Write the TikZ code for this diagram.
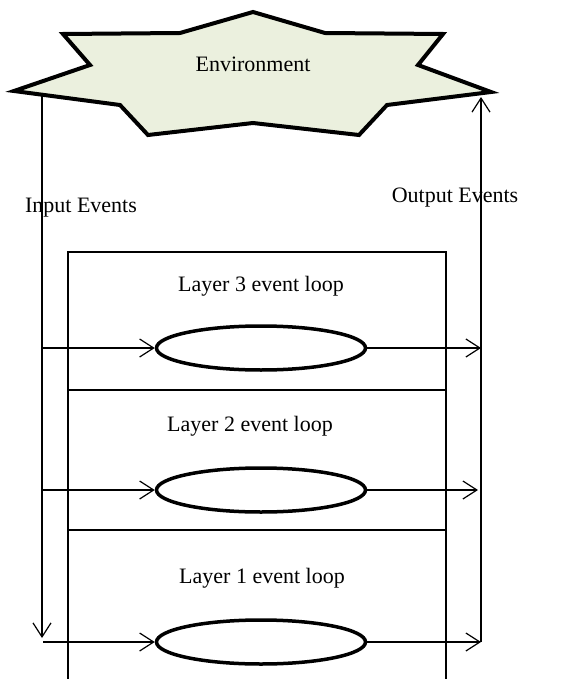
\documentclass[tikz,border=0pt]{standalone}
\usepackage{fontspec}
\setmainfont{Liberation Serif}
\usetikzlibrary{shapes.geometric,arrows.meta}
\definecolor{envfill}{RGB}{235,240,222}

\begin{document}
\begin{tikzpicture}[x=1pt,y=-1pt,
	loop/.style = {draw, ellipse, line width=3.5pt, minimum width=209pt, minimum height=44pt, inner sep=0pt},
	lbl/.style = {font=\fontsize{22}{26}\selectfont, inner sep=0pt, anchor=base},
	ev/.style = {line width=1.2pt, -{Straight Barb[length=14pt,width=18pt]}},
	box/.style = {line width=1.5pt}]
				\useasboundingbox (0,0) rectangle (579,679);
				% environment
				\draw[line width=4pt, fill=envfill] (14,91) -- (90,65) -- (63,34) -- (180,33) -- (253,12) -- (325,33) -- (443,34) -- (418,65) -- (491,92) -- (387,105) -- (359,135) -- (253,123) -- (148,135) -- (120,105) -- cycle;
				\node[lbl] (env) at (253,72) {Environment};
				\node[lbl] (in) at (81,212) {Input Events};
				\node[lbl] (out) at (455,202) {Output Events};
				
				% layers
				\draw[box] (68,679) -- (68,252) -- (446,252) -- (446,679);
				\draw[box] (68,390) -- (446,390);
				\draw[box] (68,530) -- (446,530);
				\node[lbl] (t3) at (261,291) {Layer 3 event loop};
				\node[lbl] (t2) at (250,431) {Layer 2 event loop};
				\node[lbl] (t1) at (262,583) {Layer 1 event loop};
				\node[loop] (l3) at (261,348) {};
				\node[loop] (l2) at (261,490) {};
				\node[loop] (l1) at (261,642) {};
				
				% events
				\coordinate (inTop) at (42,96);
				\coordinate (inBot) at (42,638);
				\coordinate (outTop) at (481,97);
				\coordinate (outBot) at (481,642);
				\coordinate (i3) at (42,348);
				\coordinate (i2) at (42,490);
				\coordinate (i1) at (43,642);
				\coordinate (o3) at (481,348);
				\coordinate (o2) at (478,490);
				\draw[ev] (inTop) -- (inBot);
				\draw[ev] (outBot) -- (outTop);
				\draw[ev] (i3) -- (l3);
				\draw[ev] (i2) -- (l2);
				\draw[ev] (i1) -- (l1);
				\draw[ev] (l3) -- (o3);
				\draw[ev] (l2) -- (o2);
				\draw[ev] (l1) -- (outBot);
			\end{tikzpicture}
\end{document}
